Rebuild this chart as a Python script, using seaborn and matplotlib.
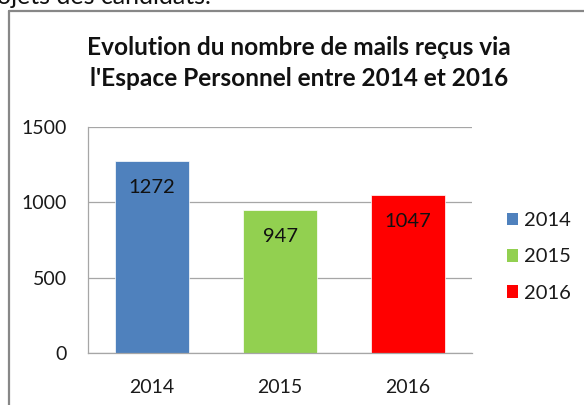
import matplotlib
matplotlib.use("Agg")
import matplotlib.pyplot as plt
from matplotlib.lines import Line2D
from matplotlib.patches import Patch
import seaborn as sns
import pandas as pd

# ---- data ----
years = ["2014", "2015", "2016"]
mails = [1272, 947, 1047]
colors = ["#4F81BD", "#92D050", "#FF0000"]
yticks = [0, 500, 1000, 1500]
title = "Evolution du nombre de mails reçus via\nl'Espace Personnel entre 2014 et 2016"
top_text = "ojets des candidats."

sns.set_style("white")
plt.rcParams["font.family"] = ["Lato", "DejaVu Sans"]

W, H = 584, 405
fig = plt.figure(figsize=(W / 100, H / 100), dpi=100)

def fx(px):
    return px / W

def fy(py):
    return 1 - py / H

# outer frame (left and top edges visible)
frame_col = "#878787"
fig.add_artist(Line2D([fx(9), fx(9)], [fy(11), 0], transform=fig.transFigure, color=frame_col, lw=1.6))
fig.add_artist(Line2D([fx(9), 1], [fy(11), fy(11)], transform=fig.transFigure, color=frame_col, lw=1.6))

# text cut off at the top (as in the reference)
fig.text(fx(-3), fy(4), top_text, fontsize=18, color="#111111", va="baseline", ha="left")

ax = fig.add_axes([fx(88), fy(353), fx(472) - fx(88), fy(127) - fy(353)])
df = pd.DataFrame({"year": years, "mails": mails})
sns.barplot(data=df, x="year", y="mails", hue="year", palette=colors, width=0.58,
            ax=ax, legend=False, saturation=1, edgecolor="white", linewidth=0.5)

ax.set_ylim(0, 1500)
ax.set_xlim(-0.5, len(years) - 0.5)
ax.set_yticks(yticks)
ax.set_xlabel("")
ax.set_ylabel("")
ax.yaxis.grid(True, color="#A6A6A6", lw=0.9)
ax.set_axisbelow(True)
for s in ["top", "right"]:
    ax.spines[s].set_visible(False)
for s in ["left", "bottom"]:
    ax.spines[s].set_color("#A6A6A6")
    ax.spines[s].set_linewidth(0.9)
ax.tick_params(axis="y", length=0, pad=15, labelsize=14, labelcolor="#1a1a1a")
ax.tick_params(axis="x", length=0, pad=19, labelsize=14, labelcolor="#1a1a1a")

for p, v in zip(ax.patches, mails):
    ax.annotate(str(v), xy=(p.get_x() + p.get_width() / 2, p.get_height()),
                xytext=(0, -19), textcoords="offset points", ha="center", va="center",
                fontsize=14.5, color="#111111")

fig.text(fx(299), fy(63), title, fontsize=17.6, fontweight="bold", ha="center", va="center",
         linespacing=1.4, color="#111111")

handles = [Patch(facecolor=c, edgecolor="none") for c in colors]
fig.legend(handles, years, loc="center left", bbox_to_anchor=(fx(507), fy(257)),
           frameon=False, fontsize=14.5, handlelength=0.56, handleheight=0.56,
           handletextpad=0.27, labelspacing=0.95, borderpad=0, borderaxespad=0,
           labelcolor="#1a1a1a")

fig.savefig("out.png", dpi=100)
